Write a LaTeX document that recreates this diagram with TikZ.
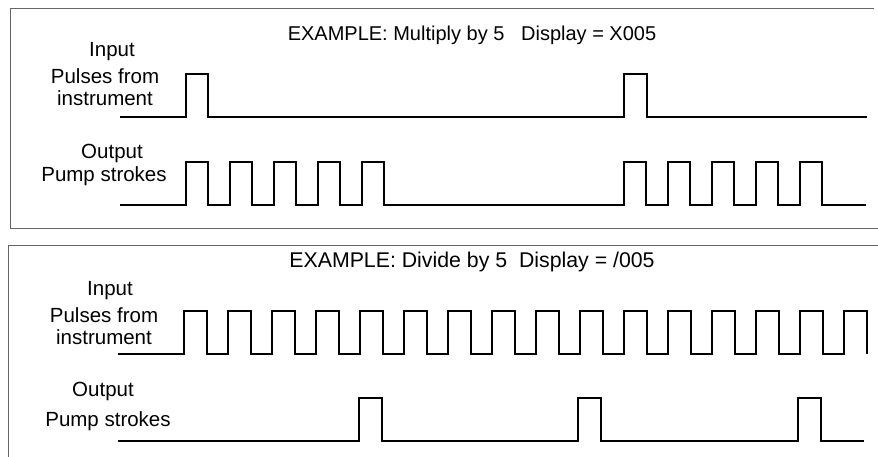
\documentclass[tikz,border=0pt]{standalone}
\usepackage{fontspec}
\setmainfont{Liberation Sans}
\begin{document}
\begin{tikzpicture}[x=1pt,y=-1pt,
  frame/.style={draw=black!60, line width=0.9pt},
  wave/.style={draw=black, line width=1.4pt, line join=miter},
  lbl/.style={inner sep=0pt, font=\fontsize{20.5}{24}\selectfont},
  ttl/.style={inner sep=0pt, font=\fontsize{20}{24}\selectfont},
  ttlb/.style={inner sep=0pt, font=\fontsize{21.3}{25}\selectfont}]
\useasboundingbox (0,0) rectangle (878,457);
% frames
\draw[frame] (874,8) -- (10,8) -- (10,228) -- (878,228);
\draw[frame] (878,245) -- (8,245) -- (8,457);
% top panel texts
\node[ttl] (t1) at (472,35) {EXAMPLE: Multiply by 5\ \ \ Display = X005};
\node[lbl] (i1a) at (112,52) {Input};
\node[lbl] (i1b) at (105,76) {Pulses from};
\node[lbl] (i1c) at (105,98) {instrument};
\node[lbl] (o1a) at (112,153) {Output};
\node[lbl] (o1b) at (104,176) {Pump strokes};
% top waves
\draw[wave] (120,117) -- (186,117) -- (186,74) -- (208,74) -- (208,117)
  -- (624,117) -- (624,74) -- (647,74) -- (647,117) -- (867,117);
\draw[wave] (120,205) foreach \s in {186,230,274,318,362,624,668,712,756,800}
  { -- (\s,205) -- (\s,162) -- (\s+22,162) -- (\s+22,205) } -- (866,205);
% bottom panel texts
\node[ttlb] (t2) at (472,262) {EXAMPLE: Divide by 5\ \ Display = /005};
\node[lbl] (i2a) at (110,291) {Input};
\node[lbl] (i2b) at (104,315) {Pulses from};
\node[lbl] (i2c) at (104,337) {instrument};
\node[lbl] (o2a) at (103,391) {Output};
\node[lbl] (o2b) at (108,421) {Pump strokes};
% bottom waves
\draw[wave] (118,354) foreach \k in {0,...,15}
  { -- (184+44*\k,354) -- (184+44*\k,311) -- (207+44*\k,311) -- (207+44*\k,354) };
\draw[wave] (118,441) foreach \s in {359,578,798}
  { -- (\s,441) -- (\s,398) -- (\s+23,398) -- (\s+23,441) } -- (864,441);
\end{tikzpicture}
\end{document}
